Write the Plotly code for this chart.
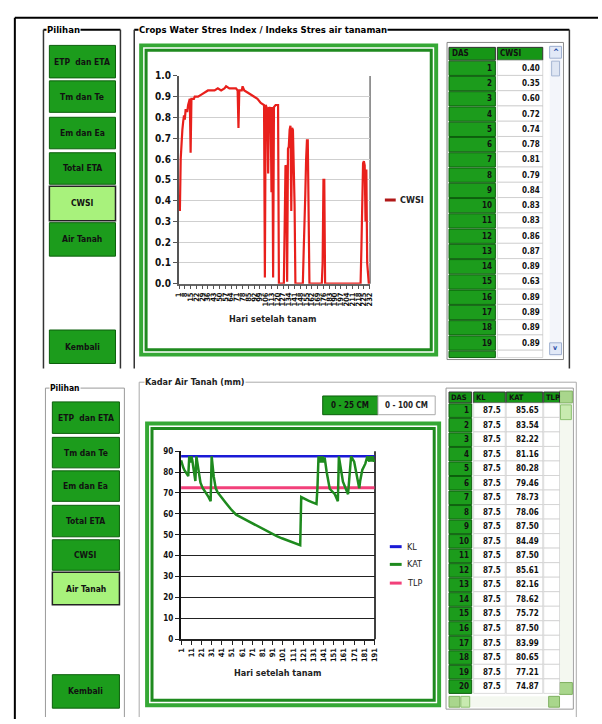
import plotly.graph_objects as go

W, H = 602, 724
FONT = "DejaVu Sans Condensed, Liberation Sans Narrow, Arial Narrow, sans-serif"

# ---------------- data: CWSI (top chart) ----------------
cwsi_days = [1, 2, 3, 4, 5, 6, 7, 8, 9, 10, 11, 12, 13, 14, 15, 16, 17, 18, 19, 20,
             24, 28, 32, 36, 40, 44, 48, 52, 56, 58, 62, 66, 70, 72, 73, 74, 77, 78, 80,
             84, 88, 92, 96, 100, 103,
             104, 105, 106, 107, 108, 109, 110, 111, 112, 113, 114, 115, 116, 118, 121, 122,
             128, 129, 130, 131, 132, 133, 134, 135, 136, 137, 138, 139, 140, 141, 142,
             151, 152, 153, 154, 155, 156, 157, 158, 159,
             174, 175, 176, 177, 178,
             221, 222, 223, 224, 225, 226, 227, 228, 229, 230, 231, 232]
cwsi_vals = [0.40, 0.35, 0.60, 0.72, 0.74, 0.78, 0.81, 0.79, 0.84, 0.83, 0.83, 0.86, 0.87, 0.89, 0.63, 0.89, 0.89, 0.89, 0.89, 0.90,
             0.90, 0.91, 0.92, 0.93, 0.93, 0.93, 0.94, 0.93, 0.94, 0.95, 0.94, 0.94, 0.94, 0.93, 0.75, 0.93, 0.93, 0.95, 0.93,
             0.92, 0.91, 0.90, 0.89, 0.87, 0.86,
             0.86, 0.03, 0.86, 0.85, 0.84, 0.53, 0.85, 0.84, 0.85, 0.44, 0.85, 0.03, 0.85, 0.86, 0.86, 0.00,
             0.00, 0.28, 0.57, 0.56, 0.01, 0.65, 0.66, 0.74, 0.76, 0.35, 0.75, 0.74, 0.60, 0.38, 0.00,
             0.00, 0.15, 0.38, 0.43, 0.60, 0.69, 0.69, 0.43, 0.00,
             0.00, 0.10, 0.50, 0.50, 0.00,
             0.00, 0.17, 0.45, 0.58, 0.59, 0.57, 0.30, 0.55, 0.10, 0.02, 0.00, 0.00]
cwsi_tick_days = [1, 8, 15, 22, 29, 36, 43, 50, 57, 64, 71, 78, 85, 92, 99, 106, 113,
                  120, 127, 134, 141, 148, 155, 162, 169, 176, 183, 190, 197, 204, 211,
                  218, 225, 232]
cwsi_y_ticks = [0.0, 0.1, 0.2, 0.3, 0.4, 0.5, 0.6, 0.7, 0.8, 0.9, 1.0]

# ---------------- data: soil water (bottom chart) ----------------
kat_days = [1, 2, 3, 4, 5, 6, 7, 8, 9, 10, 11, 12, 13, 14, 15, 16, 17, 18, 19, 20,
            22, 25, 28, 30, 31, 33, 35, 37, 40, 45, 50, 55, 60, 65, 70, 75, 80, 85, 90,
            95, 100, 105, 110, 115, 118, 119, 122, 126, 130, 134, 135, 136, 137, 138,
            139, 140, 141, 142, 144, 147, 152, 155, 156, 160, 165, 168, 171, 173, 176,
            177, 179, 181, 182, 184, 186, 187, 188, 189, 190, 191]
kat_vals = [85.65, 83.54, 82.22, 81.16, 80.28, 79.46, 78.73, 78.06, 87.50, 84.49,
            87.50, 85.61, 82.16, 78.62, 75.72, 87.50, 83.99, 80.65, 77.21, 74.87,
            72.5, 70.5, 68.0, 66.0, 87.5, 78.0, 72.2, 70.2, 68.5, 65.2, 62.2, 59.6,
            58.3, 57.0, 55.7, 54.4, 53.1, 51.8, 50.5, 49.3, 48.3, 47.3, 46.3, 45.4,
            45.0, 68.0, 67.2, 66.3, 65.5, 64.7, 73.0, 87.5, 84.5, 87.5, 84.5, 87.5,
            84.5, 87.0, 80.0, 72.0, 69.4, 66.0, 87.5, 75.4, 69.4, 87.5, 85.0, 80.0,
            72.2, 76.0, 81.0, 83.0, 84.0, 87.5, 85.0, 87.5, 85.0, 87.5, 85.0, 86.0]
kl_value = 87.5
tlp_value = 72.5
kat_tick_days = [1, 11, 21, 31, 41, 51, 61, 71, 81, 91, 101, 111, 121, 131, 141,
                 151, 161, 171, 181, 191]
kat_y_ticks = [0, 10, 20, 30, 40, 50, 60, 70, 80, 90]

# ---------------- data: tables ----------------
tab1_das = [1, 2, 3, 4, 5, 6, 7, 8, 9, 10, 11, 12, 13, 14, 15, 16, 17, 18, 19]
tab1_cwsi = ["0.40", "0.35", "0.60", "0.72", "0.74", "0.78", "0.81", "0.79", "0.84", "0.83",
             "0.83", "0.86", "0.87", "0.89", "0.63", "0.89", "0.89", "0.89", "0.89"]
tab2_das = [1, 2, 3, 4, 5, 6, 7, 8, 9, 10, 11, 12, 13, 14, 15, 16, 17, 18, 19, 20]
tab2_kl = ["87.5"] * 20
tab2_kat = ["85.65", "83.54", "82.22", "81.16", "80.28", "79.46", "78.73", "78.06", "87.50", "84.49",
            "87.50", "85.61", "82.16", "78.62", "75.72", "87.50", "83.99", "80.65", "77.21", "74.87"]

menu_labels = ["ETP  dan ETA", "Tm dan Te", "Em dan Ea", "Total ETA", "CWSI", "Air Tanah", "Kembali"]


def X(px):
    return px / W


def Y(py):
    return 1 - py / H


shapes = []
annotations = []


def rect(x0, y0, x1, y1, fill=None, line=None, width=1):
    shapes.append(dict(type="rect", xref="paper", yref="paper", layer="below",
                       x0=X(x0), x1=X(x1), y0=Y(y1), y1=Y(y0),
                       fillcolor=fill or "rgba(0,0,0,0)",
                       line=dict(color=line or "rgba(0,0,0,0)", width=width if line else 0)))


def seg(x0, y0, x1, y1, color="black", width=1, layer="below"):
    shapes.append(dict(type="line", xref="paper", yref="paper", layer=layer,
                       x0=X(x0), x1=X(x1), y0=Y(y0), y1=Y(y1),
                       line=dict(color=color, width=width)))


def text(x, y, s, size=10, color="black", xanchor="center", bold=True, bg=None):
    annotations.append(dict(xref="paper", yref="paper", x=X(x), y=Y(y),
                            text=f"<b>{s}</b>" if bold else s, showarrow=False,
                            xanchor=xanchor, yanchor="middle",
                            font=dict(family=FONT, size=size, color=color),
                            bgcolor=bg, borderpad=0))


GREEN = "#1c9c1c"
DARKG = "#0c5f0c"
LIGHT = "#a8f27c"

# outer window frame
seg(11, 12, 602, 12, "black", 2)
seg(11, 12, 11, 724, "black", 2)

# ---------------- top panel ----------------
seg(40, 24, 118, 24, "black", 2)
seg(40, 24, 40, 368, "#333", 1.5)
seg(118, 24, 118, 368, "#333", 1.5)
text(43, 24, "Pilihan", 9.5, xanchor="left", bg="white")
seg(132, 24, 573, 24, "black", 2)
seg(132, 24, 132, 368, "#333", 1.5)
seg(573, 24, 573, 368, "#333", 1.5)
text(136, 24, "Crops Water Stres Index / Indeks Stres air tanaman", 9.5, xanchor="left", bg="white")

top_btn_y = [(40, 73), (76, 108), (113, 145), (149, 181), (183, 218), (220, 254), (329, 363)]
for lab, (a, b) in zip(menu_labels, top_btn_y):
    sel = lab == "CWSI"
    rect(46, a, 113, b, LIGHT if sel else GREEN, "#222" if sel else DARKG, 1.5 if sel else 1)
    text(79.5, (a + b) / 2, lab, 8.5, "#111")

# chart frame
rect(137, 38, 440, 356, "#35a835")
rect(141, 42, 436, 352, "white")
rect(144, 45, 433, 349, None, "#1f8a1f", 3)
seg(371, 71, 371, 282, "#777", 1.5)
text(272, 318, "Hari setelah tanam", 9, "#222")
# legend (top chart)
seg(386, 197, 397, 197, "#b01818", 3)
text(400, 197, "CWSI", 9, "#222", xanchor="left")

# table 1 frame + scrollbar
rect(449, 37, 567, 359, "white", "#888", 1)
rect(553, 40, 565, 356, "#f3f5fa")
rect(553, 41, 565, 53, "#e2e9f7", "#9fb0d0", 1)
text(559, 47, "^", 8, "#2a4fa8")
rect(555, 56, 563, 71, "#dfe6f3", "#a7b6d3", 1)
rect(553, 342, 565, 354, "#e2e9f7", "#9fb0d0", 1)
text(559, 347, "v", 7, "#2a4fa8")

# table 1 cells
rect(451, 42, 498, 55, "#169616", "#333", 1)
rect(500, 42, 546, 55, "#169616", "#333", 1)
text(453, 48.5, "DAS", 8, "#111", xanchor="left")
text(502, 48.5, "CWSI", 8, "#111", xanchor="left")
R1 = 15.5
for i, (d, v) in enumerate(zip(tab1_das, tab1_cwsi)):
    top = 55 + i * R1
    rect(451, top + 1, 498, top + R1, GREEN, DARKG, 1)
    rect(500, top, 546, top + R1, "white", "#bdbdbd", 0.6)
    text(496, top + R1 / 2 + 0.5, str(d), 8, "#111", xanchor="right")
    text(544, top + R1 / 2 + 0.5, v, 8, "#111", xanchor="right")
rect(451, 55 + 19 * R1 + 1, 498, 357, GREEN, DARKG, 1)
rect(500, 55 + 19 * R1, 546, 357, "white", "#bdbdbd", 0.6)

# ---------------- bottom panel ----------------
seg(42, 388, 122, 388, "#999", 1)
seg(42, 388, 42, 722, "#999", 1)
seg(122, 388, 122, 722, "#999", 1)
text(46, 388, "Pilihan", 8.5, xanchor="left", bg="white")
seg(137, 382, 580, 382, "#aaa", 1)
seg(137, 382, 137, 722, "#aaa", 1)
seg(580, 382, 580, 722, "#aaa", 1)
text(142, 382, "Kadar Air Tanah (mm)", 9, "#222", xanchor="left", bg="white")

bot_btn_y = [(402, 434), (438, 469), (472, 503), (507, 539), (542, 573), (575, 608), (679, 713)]
for lab, (a, b) in zip(menu_labels, bot_btn_y):
    sel = lab == "Air Tanah"
    rect(49, a, 117, b, LIGHT if sel else GREEN, "#222" if sel else DARKG, 1.5 if sel else 1)
    text(83, (a + b) / 2, lab, 8.5, "#111")

rect(323, 396, 379, 415, GREEN, DARKG, 1)
text(351, 405.5, "0 - 25 CM", 8, "#111")
rect(379, 396, 437, 415, "white", "#aaa", 1)
text(408, 405.5, "0 - 100 CM", 8, "#222")

rect(143, 422, 443, 712, "#35a835")
rect(147, 426, 439, 708, "white")
rect(150, 429, 436, 705, None, "#1f8a1f", 3)
seg(376, 452, 376, 643, "black", 1.5)
text(277, 677, "Hari setelah tanam", 9, "#222")
# legend (bottom chart)
for lab, col, yy in [("KL", "#1a1ad6", 549), ("KAT", "#1e8a1e", 567), ("TLP", "#f2407a", 586)]:
    seg(391, yy, 403, yy, col, 3)
    text(407, yy, lab, 9, "#222", xanchor="left", bold=False)

# table 2 frame + scrollbars
rect(448, 388, 577, 714, "white", "#999", 1)
rect(563, 391, 576, 700, "#f4f8f0")
rect(563, 391, 576, 403, "#a9d68c", "#7fb060", 1)
rect(564, 405, 575, 420, "#c8eab0", "#8cc070", 1)
rect(563, 687, 576, 699, "#a9d68c", "#7fb060", 1)
rect(451, 701, 563, 712, "#f4f8f0")
rect(451, 701, 462, 712, "#a9d68c", "#7fb060", 1)
rect(463, 701, 472, 712, "#c8eab0", "#8cc070", 1)
rect(552, 701, 563, 712, "#a9d68c", "#7fb060", 1)

# table 2 cells
cols2 = [(451, 474, "DAS"), (476, 508, "KL"), (509, 546, "KAT"), (547, 563, "TLP")]
for x0, x1, h in cols2:
    rect(x0, 392, x1, 403, "#169616", "#333", 1)
    text(x0 + 1.5, 397.5, h, 7.5, "#111", xanchor="left")
R2 = 14.75
for i, (d, kl, kat) in enumerate(zip(tab2_das, tab2_kl, tab2_kat)):
    top = 403 + i * R2
    rect(451, top + 1, 474, top + R2, GREEN, DARKG, 1)
    rect(476, top, 508, top + R2, "white", "#c4c4c4", 0.6)
    rect(509, top, 546, top + R2, "white", "#c4c4c4", 0.6)
    rect(547, top, 563, top + R2, "white", "#c4c4c4", 0.6)
    text(472, top + R2 / 2 + 0.5, str(d), 8, "#111", xanchor="right")
    text(505, top + R2 / 2 + 0.5, kl, 8, "#111", xanchor="right")
    text(543, top + R2 / 2 + 0.5, kat, 8, "#111", xanchor="right")

# ---------------- traces ----------------
fig = go.Figure()
fig.add_trace(go.Scatter(x=cwsi_days, y=cwsi_vals, mode="lines", name="CWSI",
                         line=dict(color="#e8201c", width=2.2), xaxis="x", yaxis="y"))
fig.add_trace(go.Scatter(x=[kat_days[0], kat_days[-1]], y=[kl_value, kl_value], mode="lines",
                         name="KL", line=dict(color="#1a1ad6", width=2.5), xaxis="x2", yaxis="y2"))
fig.add_trace(go.Scatter(x=[kat_days[0], kat_days[-1]], y=[tlp_value, tlp_value], mode="lines",
                         name="TLP", line=dict(color="#f2407a", width=3), xaxis="x2", yaxis="y2"))
fig.add_trace(go.Scatter(x=kat_days, y=kat_vals, mode="lines", name="KAT",
                         line=dict(color="#1e8a1e", width=2.5), xaxis="x2", yaxis="y2"))

fig.update_layout(
    width=W, height=H, margin=dict(l=0, r=0, t=0, b=0),
    paper_bgcolor="white", plot_bgcolor="rgba(0,0,0,0)",
    font=dict(family=FONT), showlegend=False,
    shapes=shapes, annotations=annotations,
    xaxis=dict(domain=[X(177), X(371)], range=[0.5, 232.5], tickvals=cwsi_tick_days,
               ticktext=[str(d) for d in cwsi_tick_days], tickangle=-90,
               tickfont=dict(family=FONT, size=7.5, color="#111", weight="bold"),
               ticks="outside", ticklen=4, tickcolor="#555", showline=True, linecolor="#666",
               linewidth=1.5, showgrid=False, zeroline=False, anchor="y"),
    yaxis=dict(domain=[Y(282), Y(71)], range=[0, 1.0], tickvals=cwsi_y_ticks,
               tickformat=".1f", ticks="outside", ticklen=4, tickcolor="#555",
               tickfont=dict(family=FONT, size=10, color="#111", weight="bold"),
               showline=True, linecolor="#555", linewidth=1.5, showgrid=True,
               gridcolor="#cfcfcf", zeroline=False, anchor="x"),
    xaxis2=dict(domain=[X(179), X(376)], range=[0.5, 191.5], tickvals=kat_tick_days,
                ticktext=[str(d) for d in kat_tick_days], tickangle=-90,
                tickfont=dict(family=FONT, size=7.5, color="#111", weight="bold"),
                ticks="outside", ticklen=4, tickcolor="#222", showline=True, linecolor="#222",
                linewidth=1.5, showgrid=False, zeroline=False, anchor="y2"),
    yaxis2=dict(domain=[Y(643), Y(452)], range=[0, 90], tickvals=kat_y_ticks,
                ticks="outside", ticklen=4, tickcolor="#222",
                tickfont=dict(family=FONT, size=8, color="#111", weight="bold"),
                showline=True, linecolor="#111", linewidth=1.5, showgrid=True,
                gridcolor="#222", gridwidth=1, zeroline=False, anchor="x2"),
)

fig.write_html("out.html", config={"displayModeBar": False},
               post_script="document.body.style.margin='0px';")
